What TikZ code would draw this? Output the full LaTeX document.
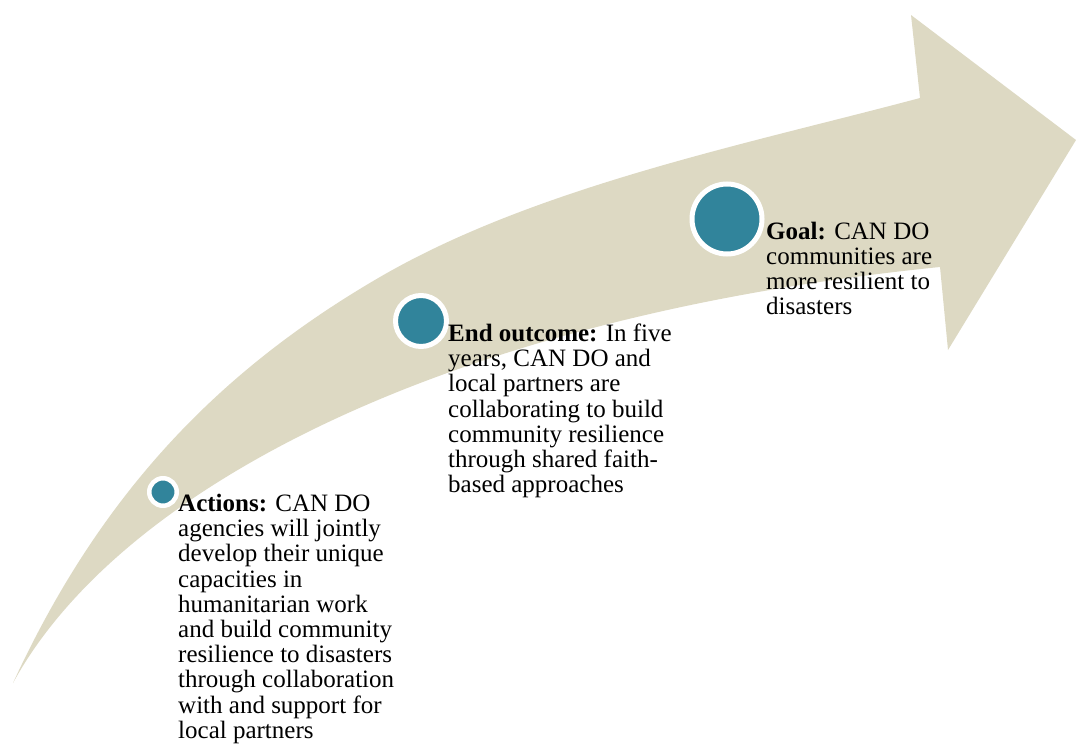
\documentclass[tikz,border=0pt]{standalone}
\usepackage{fontspec}
\setmainfont{Liberation Serif}
\definecolor{band}{HTML}{DDD9C3}
\definecolor{dot}{HTML}{31849B}
\newcommand{\lines}[1]{\begin{tabular}[t]{@{}l@{}}#1\end{tabular}}
\begin{document}
\begin{tikzpicture}[x=1pt,y=-1pt,
  dotnode/.style={circle,fill=dot,draw=white,inner sep=0pt},
  txt/.style={anchor=base west,inner sep=0pt,font=\fontsize{25}{25.2}\selectfont}]
\useasboundingbox (0,0) rectangle (1076,744);
% curved arrow
\fill[band] (13,683) .. controls (119,489) and (445,317) .. (940,267)
  -- (948,350) -- (1076,140) -- (911,15) -- (920,98)
  .. controls (746,144.4) and (535.7,186.6) .. (380,277)
  .. controls (220,369.9) and (101.2,491.9) .. (13,683)
  -- cycle;
% circles
\node[dotnode,minimum size=27.5pt,line width=4.5pt] (c1) at (163,492) {};
\node[dotnode,minimum size=51pt,line width=5pt] (c2) at (421,321) {};
\node[dotnode,minimum size=70pt,line width=5pt] (c3) at (727,219) {};
% texts
\node[txt] (t1) at (178,511.5) {\lines{\textbf{Actions:} CAN DO\\agencies will jointly\\develop their unique\\capacities in\\humanitarian work\\and build community\\resilience to disasters\\through collaboration\\with and support for\\local partners}};
\node[txt] (t2) at (448,341.5) {\lines{\textbf{End outcome:} In five\\years, CAN DO and\\local partners are\\collaborating to build\\community resilience\\through shared faith-\\based approaches}};
\node[txt] (t3) at (766,239) {\lines{\textbf{Goal:} CAN DO\\communities are\\more resilient to\\disasters}};
\end{tikzpicture}
\end{document}
